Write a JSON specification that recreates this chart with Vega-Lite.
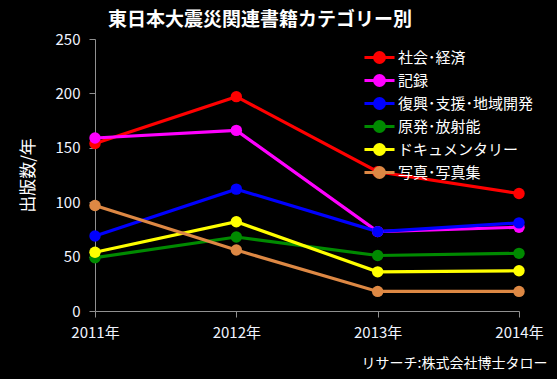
{
  "$schema": "https://vega.github.io/schema/vega-lite/v6.json",
  "autosize": {"type": "none"},
  "width": 424,
  "height": 272,
  "padding": {"left": 95, "top": 39, "right": 38, "bottom": 68},
  "background": "#000000",
  "config": {
    "view": {"stroke": null},
    "font": "Noto Sans CJK JP"
  },
  "title": {
    "text": "東日本大震災関連書籍カテゴリー別",
    "color": "#ffffff",
    "fontSize": 19,
    "fontWeight": "bold",
    "font": "Noto Sans CJK JP",
    "anchor": "middle",
    "dx": -47,
    "offset": 2
  },
  "data": {
    "values": [
      {"year": "2011年", "cat": "社会･経済", "n": 154},
      {"year": "2012年", "cat": "社会･経済", "n": 197},
      {"year": "2013年", "cat": "社会･経済", "n": 128},
      {"year": "2014年", "cat": "社会･経済", "n": 108},
      {"year": "2011年", "cat": "記録", "n": 159},
      {"year": "2012年", "cat": "記録", "n": 166},
      {"year": "2013年", "cat": "記録", "n": 73},
      {"year": "2014年", "cat": "記録", "n": 77},
      {"year": "2011年", "cat": "復興･支援･地域開発", "n": 69},
      {"year": "2012年", "cat": "復興･支援･地域開発", "n": 112},
      {"year": "2013年", "cat": "復興･支援･地域開発", "n": 73},
      {"year": "2014年", "cat": "復興･支援･地域開発", "n": 81},
      {"year": "2011年", "cat": "原発･放射能", "n": 49},
      {"year": "2012年", "cat": "原発･放射能", "n": 68},
      {"year": "2013年", "cat": "原発･放射能", "n": 51},
      {"year": "2014年", "cat": "原発･放射能", "n": 53},
      {"year": "2011年", "cat": "ドキュメンタリー", "n": 54},
      {"year": "2012年", "cat": "ドキュメンタリー", "n": 82},
      {"year": "2013年", "cat": "ドキュメンタリー", "n": 36},
      {"year": "2014年", "cat": "ドキュメンタリー", "n": 37},
      {"year": "2011年", "cat": "写真･写真集", "n": 97},
      {"year": "2012年", "cat": "写真･写真集", "n": 56},
      {"year": "2013年", "cat": "写真･写真集", "n": 18},
      {"year": "2014年", "cat": "写真･写真集", "n": 18}
    ]
  },
  "encoding": {
    "x": {
      "field": "year",
      "type": "ordinal",
      "scale": {"type": "point", "padding": 0},
      "axis": {
        "title": "リサーチ:株式会社博士タロー",
        "titleColor": "#ffffff",
        "titleFontSize": 14,
        "titleFontWeight": "normal",
        "titleAnchor": "end",
        "titleAlign": "right",
        "titleBaseline": "alphabetic",
        "titleX": 452,
        "titleY": 56,
        "labelAngle": 0,
        "labelColor": "#f0f4ff",
        "labelFontSize": 15,
        "labelPadding": 8,
        "domainColor": "#909090",
        "tickColor": "#909090",
        "tickSize": 6,
        "grid": false
      }
    },
    "y": {
      "field": "n",
      "type": "quantitative",
      "scale": {"domain": [0, 250]},
      "axis": {
        "title": "出版数/年",
        "titleColor": "#ffffff",
        "titleFontSize": 17,
        "titleFontWeight": "normal",
        "titlePadding": 18,
        "values": [0, 50, 100, 150, 200, 250],
        "labelColor": "#f0f4ff",
        "labelFontSize": 15,
        "labelPadding": 9,
        "domainColor": "#909090",
        "tickColor": "#909090",
        "tickSize": 6,
        "grid": false
      }
    },
    "color": {
      "field": "cat",
      "type": "nominal",
      "sort": ["社会･経済", "記録", "復興･支援･地域開発", "原発･放射能", "ドキュメンタリー", "写真･写真集"],
      "scale": {
        "domain": ["社会･経済", "記録", "復興･支援･地域開発", "原発･放射能", "ドキュメンタリー", "写真･写真集"],
        "range": ["#ff0000", "#ff00ff", "#0000ff", "#008a00", "#ffff00", "#dd8844"]
      },
      "legend": {
        "title": null,
        "orient": "none",
        "legendX": 274,
        "legendY": 8,
        "labelColor": "#ffffff",
        "labelFontSize": 15,
        "symbolType": "M-1.67,0L1.67,0M-0.55,0A0.55,0.55,0,1,0,0.55,0A0.55,0.55,0,1,0,-0.55,0Z",
        "symbolSize": 324,
        "symbolStrokeWidth": 3,
        "symbolOpacity": 1,
        "rowPadding": 0,
        "labelOffset": 8
      }
    },
    "order": {"field": "year"}
  },
  "layer": [
    {"mark": {"type": "line", "strokeWidth": 3.2}},
    {"mark": {"type": "point", "filled": true, "size": 130, "opacity": 1}}
  ]
}
